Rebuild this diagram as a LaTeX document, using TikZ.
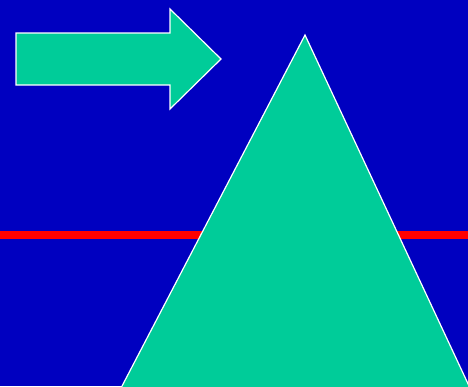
\documentclass[tikz,border=0pt]{standalone}
\definecolor{bg}{RGB}{0,0,192}
\definecolor{teal}{RGB}{0,204,153}
\definecolor{redline}{RGB}{255,0,0}
\begin{document}
\begin{tikzpicture}[x=1pt,y=-1pt,
  shapefill/.style={fill=teal,draw=white,line width=1.2pt,line join=miter}]
\fill[bg] (0,0) rectangle (468,386);
\useasboundingbox (0,0) rectangle (468,386);
\fill[redline] (0,231) rectangle (468,239);
\filldraw[shapefill] (16,33) -- (170,33) -- (170,9) -- (221,59) -- (170,109) -- (170,85) -- (16,85) -- cycle;
\filldraw[shapefill] (305,35) -- (470,388) -- (121,388) -- cycle;
\end{tikzpicture}
\end{document}
